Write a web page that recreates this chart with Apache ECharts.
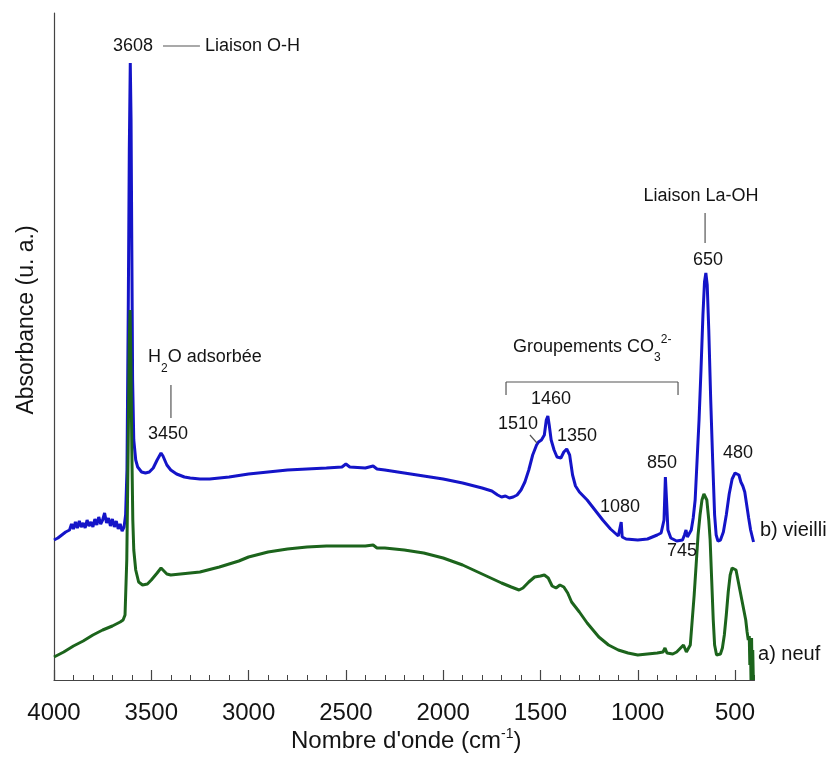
<!DOCTYPE html>
<html>
<head>
<meta charset="utf-8">
<script src="https://cdn.jsdelivr.net/npm/echarts@6/dist/echarts.min.js"></script>
<style>
html,body{margin:0;padding:0;background:#fff;}
#chart{width:833px;height:762px;}
</style>
</head>
<body>
<div id="chart"></div>
<script>
// ---------- DATA ----------
const majorTicks = [4000, 3500, 3000, 2500, 2000, 1500, 1000, 500];
const minorTicks = [4000,3900,3800,3700,3600,3500,3400,3300,3200,3100,3000,2900,2800,2700,2600,2500,2400,2300,2200,2100,2000,1900,1800,1700,1600,1500,1400,1300,1200,1100,1000,900,800,700,600,500,400];

// b) vieilli (blue) – wavenumber (cm-1) and absorbance (arbitrary units)
const wnVieilli = [4000,3980,3960,3940,3920,3910,3900,3890,3880,3870,3860,3850,3840,3830,3820,3810,3800,3790,3780,3770,3760,3750,3740,3730,3720,3710,3700,3690,3680,3670,3660,3650,3640,3632,3625,3618,3613,3608,3604,3600,3596,3590,3580,3570,3550,3530,3510,3490,3470,3450,3440,3420,3400,3370,3330,3300,3250,3200,3100,3000,2900,2800,2700,2600,2520,2500,2480,2400,2360,2340,2300,2200,2100,2000,1900,1800,1750,1720,1700,1680,1660,1640,1620,1600,1580,1560,1540,1520,1510,1495,1480,1470,1462,1455,1445,1430,1415,1395,1380,1365,1350,1335,1320,1300,1260,1220,1180,1140,1100,1090,1085,1080,1060,1000,950,900,880,865,858,852,845,830,800,770,760,752,745,735,725,715,705,695,685,675,665,657,650,643,635,625,615,605,597,588,575,560,545,530,515,500,490,480,470,460,450,440,430,420,410,405];
const absVieilli = [140,142,145,148,150,156,151,158,152,159,153,157,152,160,154,158,153,161,155,163,156,160,167,157,162,154,161,153,159,151,156,149,153,165,210,380,530,617,560,430,300,240,220,213,208,207,208,212,220,227,224,215,210,206,203,202,201,201,203,206,208,210,211,212,213,216,213,212,214,211,210,207,204,201,197,192,189,185,183,184,182,183,185,190,198,210,225,235,238,240,245,260,264,255,240,230,223,222,228,231,225,205,194,188,180,170,160,151,144,143,158,143,141,140,141,145,147,160,203,180,150,142,139,140,145,150,143,144,150,162,180,220,260,310,365,398,407,395,350,280,220,165,145,139,140,148,165,186,201,207,208,205,198,194,188,175,162,150,142,138];

// a) neuf (green)
const wnNeuf = [4000,3950,3900,3850,3800,3750,3700,3660,3645,3635,3626,3619,3613,3609,3605,3600,3595,3590,3580,3565,3545,3520,3500,3470,3450,3440,3420,3400,3350,3300,3250,3150,3050,3000,2900,2800,2700,2600,2500,2400,2360,2340,2300,2200,2100,2000,1900,1800,1700,1650,1610,1590,1560,1530,1500,1480,1460,1440,1420,1400,1380,1360,1340,1300,1260,1200,1150,1100,1050,1000,950,900,870,860,850,820,800,780,765,750,740,730,720,710,700,690,680,670,660,652,645,635,628,620,612,605,595,585,575,565,555,545,535,525,515,505,495,485,475,465,455,445,438,432,427,424,421,418,415,412,409,406];
const absNeuf = [23,28,34,39,45,50,54,58,60,65,120,230,340,370,320,230,160,130,110,98,95,96,100,107,112,110,106,105,106,107,108,113,119,123,128,131,133,134,134,134,135,132,132,130,127,122,115,106,97,93,90,92,98,103,104,105,102,94,92,95,93,87,78,68,57,43,35,30,27,25,26,27,28,32,27,26,28,32,35,28,27,35,60,85,115,145,165,180,186,187,180,160,140,100,60,35,25,24,26,32,45,65,88,105,112,113,110,100,90,80,70,60,48,40,44,15,40,0,42,0,30,0];

// ---------- ANNOTATIONS (positions in data units: [wavenumber, absorbance]) ----------
const peakLabels = [
  {t:'3608', w:3594, v:634},
  {t:'3450', w:3414, v:246},
  {t:'1460', w:1446, v:281},
  {t:'1510', w:1615, v:256},
  {t:'1350', w:1312, v:244},
  {t:'1080', w:1091, v:173},
  {t:'850',  w:875,  v:217},
  {t:'745',  w:772,  v:129},
  {t:'650',  w:639,  v:420},
  {t:'480',  w:485,  v:227},
  {t:'Liaison La-OH', w:675, v:484}
];
const leftLabels = [
  {t:'Liaison O-H', w:3224, v:634, size:18},
  {t:'b) vieilli', w:372, v:150, size:20},
  {t:'a) neuf', w:382, v:26, size:20}
];
const leaderLines = [
  [[3440,634],[3250,634]],
  [[3399,295],[3399,262]],
  [[654,467],[654,437]],
  [[1554,245],[1518,237]],
  [[1677,285],[1677,298]],
  [[1677,298],[793,298]],
  [[793,298],[793,285]]
];

const FONT = '"Liberation Sans", Arial, Helvetica, sans-serif';
const TXT = '#141414';

const chart = echarts.init(document.getElementById('chart'), null, {renderer:'canvas'});

const option = {
  animation: false,
  backgroundColor: '#ffffff',
  grid: {left: 54, right: 78.5, top: 13, bottom: 82, containLabel: false},
  xAxis: [
    {
      type: 'value', min: 400, max: 4000, inverse: true,
      axisLine: {show: true, lineStyle: {color: '#444', width: 1.2}},
      axisTick: {show: true, inside: true, length: 10, lineStyle: {color: '#444', width: 1.2}, customValues: majorTicks},
      axisLabel: {show: true, margin: 21, fontSize: 24, fontFamily: FONT, color: TXT, customValues: majorTicks,
        formatter: v => String(v)},
      splitLine: {show: false}
    },
    {
      type: 'value', min: 400, max: 4000, inverse: true, position: 'bottom',
      axisLine: {show: false},
      axisTick: {show: true, inside: true, length: 5, lineStyle: {color: '#444', width: 1}, customValues: minorTicks},
      axisLabel: {show: false},
      splitLine: {show: false}
    }
  ],
  yAxis: {
    type: 'value', min: 0, max: 667,
    axisLine: {show: true, lineStyle: {color: '#444', width: 1.2}},
    axisTick: {show: false}, axisLabel: {show: false}, splitLine: {show: false}
  },
  series: [
    {
      name: 'b) vieilli', type: 'line', xAxisIndex: 0, showSymbol: false, symbol: 'none',
      data: wnVieilli.map((w, i) => [w, absVieilli[i]]),
      lineStyle: {color: '#1414c8', width: 3}, itemStyle: {color: '#1414c8'}
    },
    {
      name: 'a) neuf', type: 'line', xAxisIndex: 0, showSymbol: false, symbol: 'none',
      data: wnNeuf.map((w, i) => [w, absNeuf[i]]),
      lineStyle: {color: '#1c641c', width: 3}, itemStyle: {color: '#1c641c'}
    }
  ]
};
chart.setOption(option);

// ---------- text helpers ----------
const ctx = document.createElement('canvas').getContext('2d');
function measure(t, size) { ctx.font = size + 'px ' + FONT; return ctx.measureText(t).width; }
function px(w, v) { return chart.convertToPixel({seriesIndex: 0}, [w, v]); }

function textEl(t, x, y, size, align, extra) {
  return Object.assign({
    type: 'text', x: x, y: y, silent: true, z: 100,
    style: {text: t, font: size + 'px ' + FONT, fill: TXT,
      align: align, verticalAlign: 'middle', textAlign: align, textVerticalAlign: 'middle'}
  }, extra || {});
}
// runs of text with sub/superscripts: parts = [[text, size, dy], ...]
function runEls(parts, x, y, align) {
  const widths = parts.map(p => measure(p[0], p[1]));
  const total = widths.reduce((a, b) => a + b, 0);
  let cx = align === 'center' ? x - total / 2 : x;
  const els = [];
  parts.forEach((p, i) => { els.push(textEl(p[0], cx, y + p[2], p[1], 'left')); cx += widths[i]; });
  return els;
}

const g = [];
peakLabels.forEach(a => { const p = px(a.w, a.v); g.push(textEl(a.t, p[0], p[1], 18, 'center')); });
leftLabels.forEach(a => { const p = px(a.w, a.v); g.push(textEl(a.t, p[0], p[1], a.size, 'left')); });
leaderLines.forEach(l => {
  const a = px(l[0][0], l[0][1]), b = px(l[1][0], l[1][1]);
  g.push({type: 'line', silent: true, z: 100, shape: {x1: a[0], y1: a[1], x2: b[0], y2: b[1]},
    style: {stroke: '#555', lineWidth: 1.2}});
});
// H2O adsorbée
let p = px(3517, 323);
runEls([['H', 18, 0], ['2', 12, 12], ['O adsorbée', 18, 0]], p[0], p[1], 'left').forEach(e => g.push(e));
// Groupements CO3 2-
p = px(1641, 333);
runEls([['Groupements CO', 18, 0], ['3', 12, 11], ['2-', 12, -7]], p[0], p[1], 'left').forEach(e => g.push(e));
// x axis title
p = px(2200, 0);
runEls([["Nombre d'onde (cm", 24, 0], ['-1', 14, -7], [')', 24, 0]], p[0] + 2, 741, 'center').forEach(e => g.push(e));
// y axis title
g.push(textEl('Absorbance (u. a.)', 27, 320, 23, 'center', {rotation: Math.PI / 2}));

chart.setOption({graphic: {elements: g}});
</script>
</body>
</html>
